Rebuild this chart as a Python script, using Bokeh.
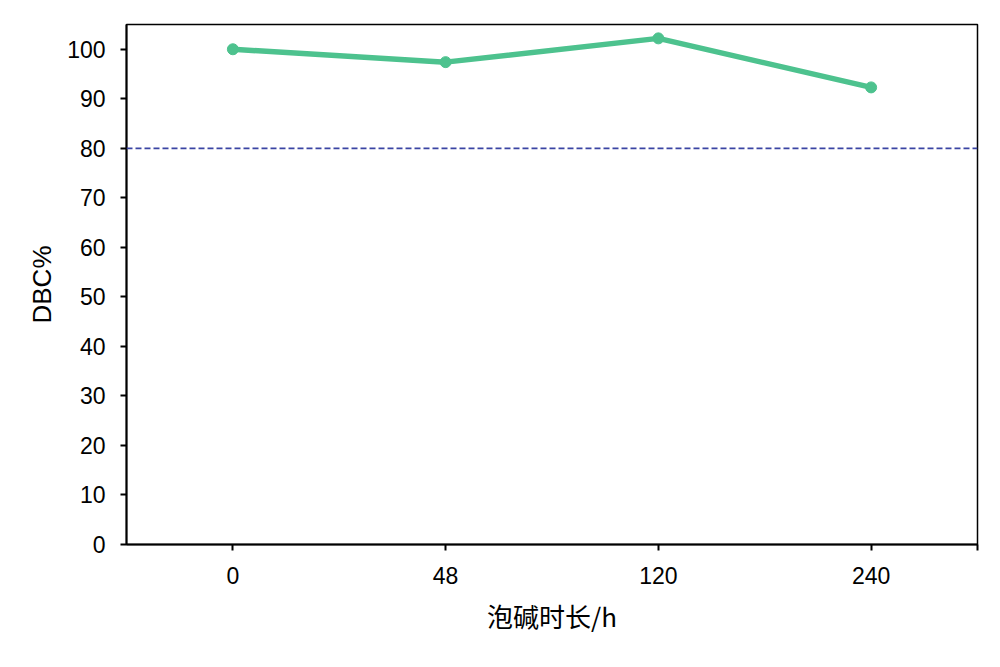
from bokeh.plotting import figure
from bokeh.models import FixedTicker, Range1d, Span
from bokeh.embed import file_html
from bokeh.resources import INLINE

categories = ["0", "48", "120", "240"]
dbc = [100.0, 97.4, 102.2, 92.3]
threshold = 80
y_ticks = [0, 10, 20, 30, 40, 50, 60, 70, 80, 90, 100]

xs = list(range(len(categories)))

p = figure(width=992, height=659, output_backend="svg", toolbar_location=None,
           x_range=Range1d(-0.5, len(categories) - 0.5), y_range=Range1d(0, 105),
           min_border_left=126, min_border_top=24, min_border_right=15, min_border_bottom=115)
p.background_fill_color = "white"
p.border_fill_color = "white"
p.outline_line_color = "black"
p.outline_line_width = 1.5
p.xgrid.visible = False
p.ygrid.visible = False

p.add_layout(Span(location=threshold, dimension="width", line_color="#3a44a3",
                  line_width=1.8, line_dash="6 3"))

p.line(xs, dbc, line_color="#4dc28e", line_width=5.5)
p.scatter(xs, dbc, size=11, color="#4dc28e")

tick_pos = xs + [len(categories) - 0.5]
p.xaxis.ticker = FixedTicker(ticks=tick_pos)
labels = {i: c for i, c in enumerate(categories)}
labels[len(categories) - 0.5] = ""
p.xaxis.major_label_overrides = labels
p.yaxis.ticker = FixedTicker(ticks=y_ticks)

for ax in (p.xaxis[0], p.yaxis[0]):
    ax.axis_line_color = "black"
    ax.axis_line_width = 2
    ax.major_tick_line_color = "black"
    ax.major_tick_line_width = 2
    ax.major_tick_in = 0
    ax.major_tick_out = 6
    ax.minor_tick_line_color = None
    ax.major_label_text_font = "Liberation Sans"
    ax.major_label_text_font_size = "23px"
    ax.major_label_text_color = "black"
    ax.axis_label_text_color = "black"
    ax.axis_label_text_font_style = "normal"

p.xaxis.axis_label = "泡碱时长/h"
p.xaxis.axis_label_text_font = "Noto Sans CJK SC"
p.xaxis.axis_label_text_font_size = "26px"
p.xaxis.major_label_standoff = 16
p.xaxis.axis_label_standoff = 10

p.yaxis.axis_label = "DBC%"
p.yaxis.axis_label_text_font = "Liberation Sans"
p.yaxis.axis_label_text_font_size = "26px"
p.yaxis.major_label_standoff = 15
p.yaxis.axis_label_standoff = 7

open("out.html", "w").write(file_html(p, INLINE))
